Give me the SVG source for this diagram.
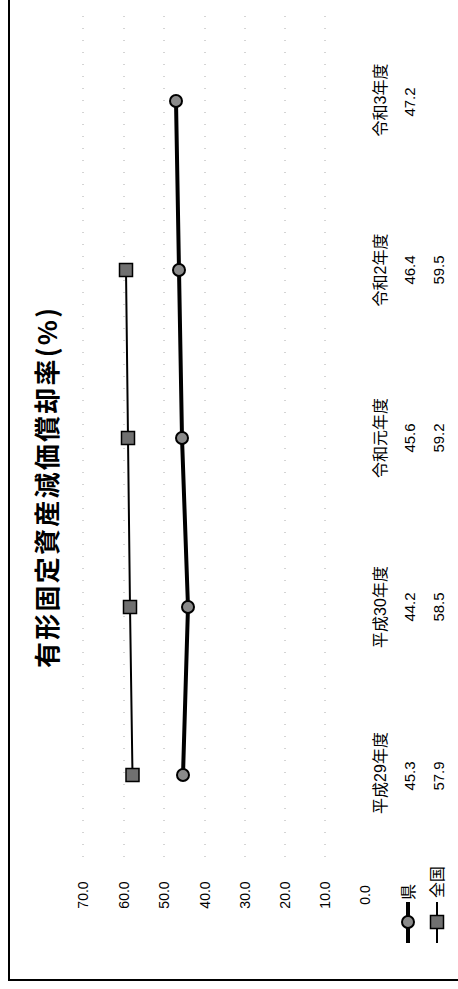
<svg xmlns="http://www.w3.org/2000/svg" width="458" height="989" viewBox="0 0 458 989">
<style>
  text { font-family: "Liberation Sans", "Noto Sans CJK JP", sans-serif; fill: #000; text-anchor: middle; dominant-baseline: central; }
  .title { font-size: 26px; font-weight: bold; font-family: "Noto Sans CJK JP", sans-serif; }
  .axis { font-size: 14px; }
  .cat { font-size: 16px; }
  .val { font-size: 15px; }
  .leg { font-size: 16px; }
  .grid { stroke: #aaa; stroke-width: 1; stroke-dasharray: 1 11; fill: none; }
  .ken { stroke: #000; stroke-width: 4; fill: none; stroke-linejoin: round; }
  .zen { stroke: #000; stroke-width: 2; fill: none; }
  .cm { fill: #8a8a8a; stroke: #000; stroke-width: 2; }
  .sm { fill: #707070; stroke: #000; stroke-width: 1.5; }
</style>
<defs>
  <circle id="circ" r="6" class="cm"/>
  <rect id="sq" x="-6.5" y="-6.5" width="13" height="13" class="sm"/>
</defs>
<rect width="458" height="989" fill="#fff"/>
<g id="frame">
  <line x1="9" y1="0" x2="9" y2="981" stroke="#000" stroke-width="2"/>
  <line x1="8" y1="980" x2="458" y2="980" stroke="#000" stroke-width="2"/>
</g>
<g id="title">
  <text class="title" transform="translate(45,488) rotate(-90)" textLength="360" lengthAdjust="spacing">有形固定資産減価償却率(%)</text>
</g>
<g id="gridlines">
  <line class="grid" x1="83" y1="16" x2="83" y2="859"/>
  <line class="grid" x1="124" y1="16" x2="124" y2="859"/>
  <line class="grid" x1="164" y1="16" x2="164" y2="859"/>
  <line class="grid" x1="205" y1="16" x2="205" y2="859"/>
  <line class="grid" x1="245" y1="16" x2="245" y2="859"/>
  <line class="grid" x1="285" y1="16" x2="285" y2="859"/>
  <line class="grid" x1="325" y1="16" x2="325" y2="859"/>
</g>
<g id="value-axis">
  <text class="axis" transform="translate(83,895) rotate(-90)">70.0</text>
  <text class="axis" transform="translate(124,895) rotate(-90)">60.0</text>
  <text class="axis" transform="translate(164,895) rotate(-90)">50.0</text>
  <text class="axis" transform="translate(205,895) rotate(-90)">40.0</text>
  <text class="axis" transform="translate(245,895) rotate(-90)">30.0</text>
  <text class="axis" transform="translate(285,895) rotate(-90)">20.0</text>
  <text class="axis" transform="translate(325,895) rotate(-90)">10.0</text>
  <text class="axis" transform="translate(365,895) rotate(-90)">0.0</text>
</g>
<g id="connectors">
  <polyline id="line-zenkoku" class="zen" points="132.5,775 130,607 128,438 126,270"/>
  <polyline id="line-ken" class="ken" points="183,775 188,607 182,438 179,270 176,101"/>
</g>
<g id="series-zenkoku">
  <use href="#sq" x="132.5" y="775"/>
  <use href="#sq" x="130" y="607"/>
  <use href="#sq" x="128" y="438"/>
  <use href="#sq" x="126" y="270"/>
</g>
<g id="series-ken">
  <use href="#circ" x="183" y="775"/>
  <use href="#circ" x="188" y="607"/>
  <use href="#circ" x="182" y="438"/>
  <use href="#circ" x="179" y="270"/>
  <use href="#circ" x="176" y="101"/>
</g>
<g id="data-table">
  <text class="cat" transform="translate(380,773) rotate(-90)">平成29年度</text>
  <text class="cat" transform="translate(380,607) rotate(-90)">平成30年度</text>
  <text class="cat" transform="translate(380,438) rotate(-90)">令和元年度</text>
  <text class="cat" transform="translate(380,270) rotate(-90)">令和2年度</text>
  <text class="cat" transform="translate(380,100) rotate(-90)">令和3年度</text>
  <text class="val" transform="translate(409,776) rotate(-90)">45.3</text>
  <text class="val" transform="translate(409,607) rotate(-90)">44.2</text>
  <text class="val" transform="translate(409,438) rotate(-90)">45.6</text>
  <text class="val" transform="translate(409,270) rotate(-90)">46.4</text>
  <text class="val" transform="translate(409,102) rotate(-90)">47.2</text>
  <text class="val" transform="translate(438,776) rotate(-90)">57.9</text>
  <text class="val" transform="translate(438,607) rotate(-90)">58.5</text>
  <text class="val" transform="translate(438,438) rotate(-90)">59.2</text>
  <text class="val" transform="translate(438,270) rotate(-90)">59.5</text>
</g>
<g id="legend">
  <line x1="408" y1="902" x2="408" y2="943" stroke="#000" stroke-width="4"/>
  <use href="#circ" x="408" y="922"/>
  <text class="leg" transform="translate(408,892) rotate(-90)">県</text>
  <line x1="437" y1="902" x2="437" y2="943" stroke="#000" stroke-width="2"/>
  <use href="#sq" x="437" y="922"/>
  <text class="leg" transform="translate(437,882) rotate(-90)">全国</text>
</g>
</svg>
